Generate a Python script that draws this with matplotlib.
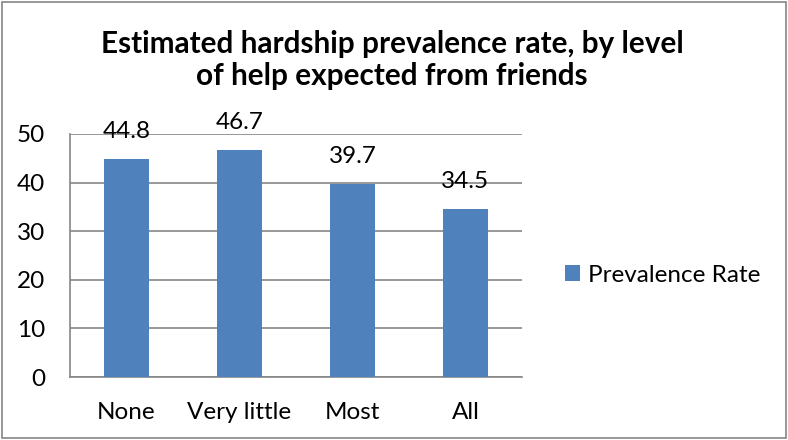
import matplotlib.pyplot as plt
from matplotlib.patches import Rectangle

# ============= DATA =============
categories = ["None", "Very little", "Most", "All"]
prevalence = [44.8, 46.7, 39.7, 34.5]
series_name = "Prevalence Rate"
title = "Estimated hardship prevalence rate, by level\nof help expected from friends"
yticks = [0, 10, 20, 30, 40, 50]

plt.rcParams['font.family'] = ['Lato', 'DejaVu Sans']

fig = plt.figure(figsize=(7.88, 4.4), dpi=100)
ax = fig.add_axes([70 / 788, 63 / 440, 452 / 788, 243 / 440])

x = range(len(categories))
bars = ax.bar(x, prevalence, width=0.4, color="#4F81BD", label=series_name, zorder=3)

ax.set_xlim(-0.5, len(categories) - 0.5)
ax.set_ylim(0, 50)
ax.set_yticks(yticks)
ax.set_xticks(list(x))
ax.set_xticklabels(categories)
ax.tick_params(axis="both", length=0, labelsize=17.5, colors="black")
ax.tick_params(axis="y", pad=18)
ax.tick_params(axis="x", pad=18)
ax.grid(axis="y", color="#868686", linewidth=1.2, zorder=0)
for side in ["top", "right"]:
    ax.spines[side].set_visible(False)
for side in ["left", "bottom"]:
    ax.spines[side].set_color("#868686")
    ax.spines[side].set_linewidth(1.2)

for b, v in zip(bars, prevalence):
    ax.annotate(f"{v:.1f}", (b.get_x() + b.get_width() / 2, v),
                xytext=(0, 20), textcoords="offset points",
                ha="center", va="center", fontsize=17.5, zorder=4)

fig.text(392 / 788, 1 - 60 / 440, title, ha="center", va="center",
         fontsize=21.4, fontweight="bold", linespacing=1.15)

fig.legend(handles=[bars], labels=[series_name], loc="center left",
           bbox_to_anchor=(565 / 788, 1 - 275 / 440), frameon=False,
           fontsize=17.5, handlelength=0.6, handleheight=0.6, handletextpad=0.35,
           borderaxespad=0, borderpad=0)

# outer chart border
fig.patches.append(Rectangle((2 / 788, 2 / 440), 784 / 788, 436 / 440,
                             transform=fig.transFigure, fill=False,
                             edgecolor="#868686", linewidth=1.2))

fig.savefig("out.png", dpi=100)
